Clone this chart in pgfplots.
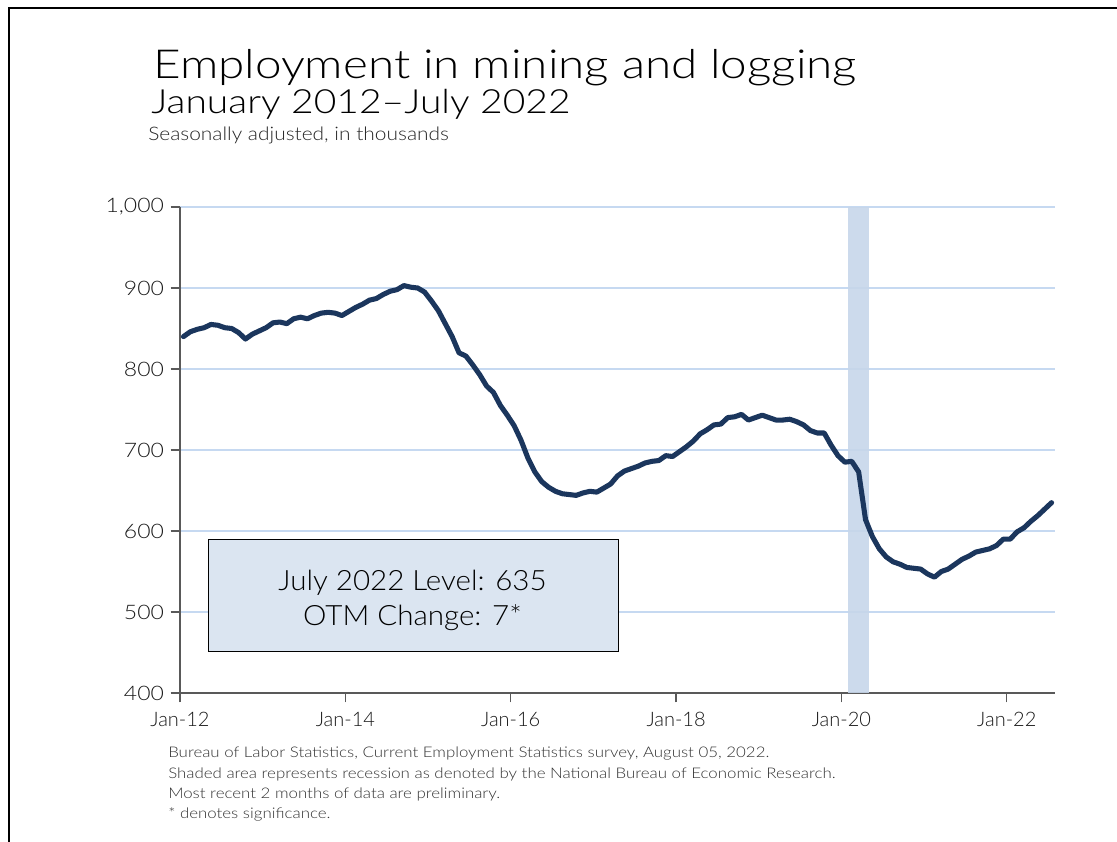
\documentclass[border=0pt]{standalone}
\usepackage{fontspec}
\setmainfont{Lato Light}
\newfontfamily\titlefont[FakeStretch=1.19]{Lato Light}
\newfontfamily\subfont[FakeStretch=1.17]{Lato Light}
\newfontfamily\notefont[FakeStretch=1.12]{Lato Light}
\newfontfamily\footfont[FakeStretch=1.15]{Lato Light}
\newfontfamily\boxfont[FakeStretch=1.055]{Lato Light}
\newfontfamily\ytickfont[FakeStretch=1.15]{Lato Light}
\usepackage{pgfplots}
\usepackage{pgfplotstable}
\pgfplotsset{compat=1.18}
\definecolor{navy}{HTML}{1B365D}
\definecolor{gridblue}{HTML}{C6D9F1}
\definecolor{shade}{HTML}{C6D6EA}
\definecolor{boxfill}{HTML}{DBE5F1}
\definecolor{axgray}{HTML}{595959}
\pgfplotstableread{
m v
0 840
1 846
2 849
3 851
4 855
5 854
6 851
7 850
8 845
9 837
10 843
11 847
12 851
13 857
14 858
15 856
16 862
17 864
18 862
19 866
20 869
21 870
22 869
23 866
24 871
25 876
26 880
27 885
28 887
29 892
30 896
31 898
32 903
33 901
34 900
35 895
36 884
37 872
38 856
39 840
40 820
41 816
42 805
43 793
44 779
45 771
46 755
47 743
48 730
49 712
50 690
51 673
52 661
53 654
54 649
55 646
56 645
57 644
58 647
59 649
60 648
61 653
62 658
63 668
64 674
65 677
66 680
67 684
68 686
69 687
70 693
71 692
72 698
73 704
74 711
75 720
76 725
77 731
78 732
79 740
80 741
81 744
82 737
83 740
84 743
85 740
86 737
87 737
88 738
89 735
90 731
91 724
92 721
93 721
94 706
95 693
96 685
97 686
98 673
99 614
100 593
101 578
102 568
103 562
104 559
105 555
106 554
107 553
108 547
109 543
110 550
111 553
112 559
113 565
114 569
115 574
116 576
117 578
118 582
119 590
120 590
121 599
122 604
123 612
124 619
125 627
126 635
}\emp
\begin{document}
\begin{tikzpicture}
\useasboundingbox (0,0) rectangle (837.75pt,-631.5pt);
\draw[line width=1.5pt] (6.75pt,-640pt) -- (6.75pt,-6pt) -- (845pt,-6pt);
\begin{axis}[
  at={(135pt,-519.75pt)}, anchor=south west,
  scale only axis, width=656.25pt, height=364.5pt,
  xmin=0, xmax=127, ymin=400, ymax=1000,
  xtick={0,24,48,72,96,120},
  xticklabels={Jan-12,Jan-14,Jan-16,Jan-18,Jan-20,Jan-22},
  ytick={400,500,...,1000},
  ymajorgrids, grid style={gridblue, line width=1pt},
  axis x line*=bottom, axis y line*=left,
  axis line style={axgray, line width=0.9pt},
  tick align=outside, major tick length=7pt,
  tick style={axgray, line width=0.9pt},
  ticklabel style={font=\fontsize{15}{18}\selectfont, text=black!90},
  xticklabel style={yshift=-4pt, font=\fontsize{15}{18}\selectfont},
  yticklabel style={xshift=-1.5pt, font=\ytickfont\fontsize{15}{18}\selectfont},
  /pgf/number format/assume math mode=true,
  /pgf/number format/1000 sep={,},
  clip=false,
]
\addplot[draw=none, fill=shade, opacity=0.9] coordinates {(97,400) (97,1000) (100,1000) (100,400)} -- cycle;
\addplot[navy, line width=3.8pt, line join=round, line cap=round] table[x expr=\thisrow{m}+0.5, y=v] {\emp};
\end{axis}
\node[anchor=base west, inner sep=0pt, font=\titlefont\fontsize{30}{36}\selectfont] at (114.75pt,-58.7pt) {Employment in mining and logging};
\node[anchor=base west, inner sep=0pt, font=\subfont\fontsize{25}{30}\selectfont] at (113.25pt,-85pt) {January 2012\textendash July 2022};
\node[anchor=base west, inner sep=0pt, font=\notefont\fontsize{14}{17}\selectfont, text=black!85] at (111pt,-105pt) {Seasonally adjusted, in thousands};
\draw[fill=boxfill, draw=black, line width=0.75pt] (156.25pt,-404.5pt) rectangle (463.75pt,-488.75pt);
\node[anchor=base, inner sep=0pt, font=\boxfont\fontsize{21}{25}\selectfont] at (309.4pt,-442.5pt) {July 2022 Level: 635};
\node[anchor=base, inner sep=0pt, font=\boxfont\fontsize{21}{25}\selectfont] at (309.4pt,-468.75pt) {OTM Change: 7*};
\begin{scope}[every node/.style={anchor=base west, inner sep=0pt, font=\footfont\fontsize{11}{13}\selectfont, text=black!80}]
\node at (126pt,-567.75pt) {Bureau of Labor Statistics, Current Employment Statistics survey, August 05, 2022.};
\node at (126pt,-583.5pt) {Shaded area represents recession as denoted by the National Bureau of Economic Research.};
\node at (126pt,-598.5pt) {Most recent 2 months of data are preliminary.};
\node at (126pt,-613.5pt) {* denotes significance.};
\end{scope}
\end{tikzpicture}
\end{document}
